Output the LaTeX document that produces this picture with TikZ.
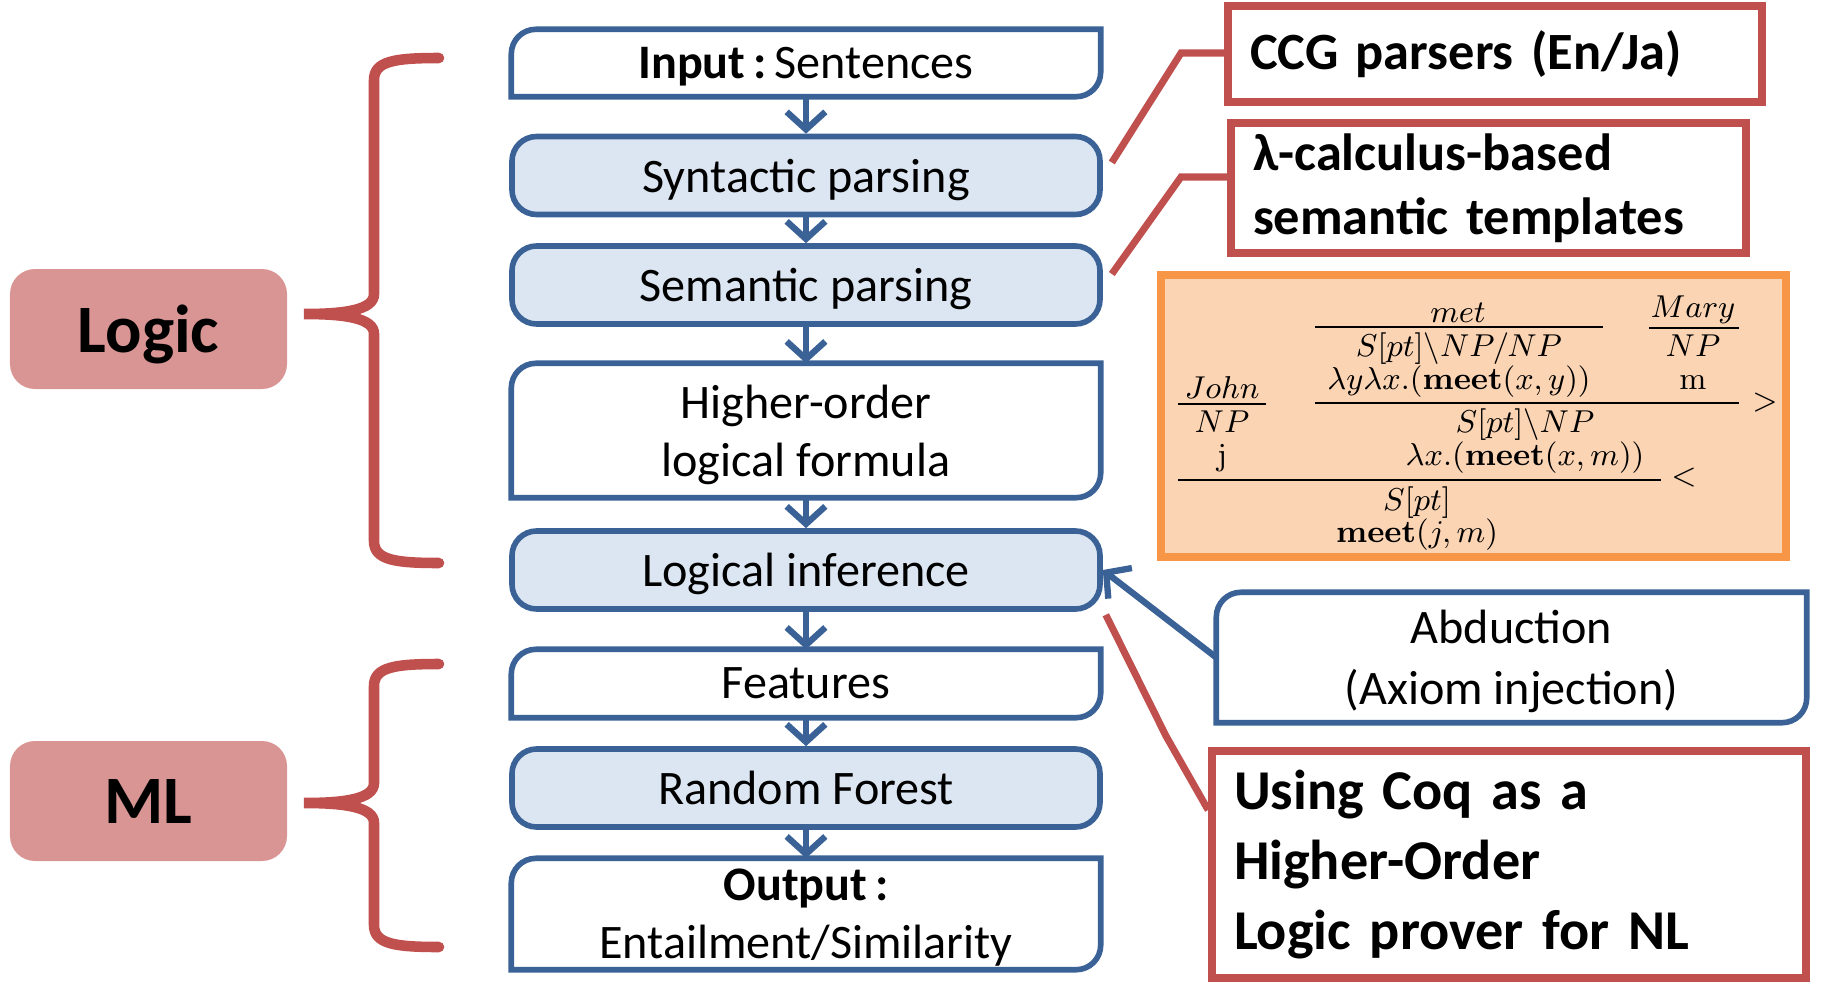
\documentclass[tikz,border=0pt]{standalone}
\usepackage[no-math]{fontspec}
\setmainfont{Carlito}
\usetikzlibrary{arrows.meta}

\definecolor{boxblue}{HTML}{3A6296}
\definecolor{boxfill}{HTML}{DCE6F2}
\definecolor{accred}{HTML}{C0504D}
\definecolor{tagfill}{HTML}{D99594}
\definecolor{derivline}{HTML}{F79646}
\definecolor{derivfill}{HTML}{FBD4B4}

\begin{document}
\begin{tikzpicture}
        \useasboundingbox (0,0) rectangle (18.21,9.83);

        % pipeline, plain boxes (outline drawn below)
        \begin{scope}[every node/.style={fill=white, minimum width=5.88cm, align=center,
            inner ysep=1pt, text depth=0pt, font=\fontsize{13.7}{16.5}\selectfont}]
          \node (inp)  at (8.06,9.20)  [minimum height=0.66cm] {\textbf{Input\,:}\,Sentences};
          \node (hof)  at (8.06,5.525) [minimum height=1.33cm] {Higher-order\\logical formula};
          \node (feat) at (8.06,2.995) [minimum height=0.67cm] {Features};
          \node (outp) at (8.06,0.69)  [minimum height=1.10cm] {\textbf{Output\,:}\\Entailment/Similarity};
          \node (abd)  at (15.115,3.255) [minimum width=5.89cm, minimum height=1.29cm,
            font=\fontsize{13.7}{17.4}\selectfont] {Abduction\\(Axiom injection)};
        \end{scope}

        \foreach \n in {inp,hof,feat,outp,abd}
          \draw[boxblue, line width=1.6pt] (\n.north) -| (\n.east)
            {[rounded corners=7pt] |- (\n.south)} -| (\n.west)
            {[rounded corners=7pt] |- (\n.north)};

        % pipeline, shaded boxes
        \begin{scope}[every node/.style={draw=boxblue, fill=boxfill, line width=1.6pt,
            rounded corners=7pt, minimum width=5.88cm, minimum height=0.78cm,
            text depth=0pt, font=\fontsize{13.7}{16.5}\selectfont}]
          \node (syn)  at (8.06,8.075) {Syntactic parsing};
          \node (sem)  at (8.06,6.98)  {Semantic parsing};
          \node (logi) at (8.06,4.13)  {Logical inference};
          \node (rf)   at (8.06,1.95)  {Random Forest};
        \end{scope}

        \begin{scope}[every edge/.style={draw=boxblue, line width=1.8pt,
            -{Straight Barb[length=5pt,width=11pt]}}]
          \path (inp) edge (syn);
          \path (syn) edge (sem);
          \path (sem) edge (hof);
          \path (hof) edge (logi);
          \path (logi) edge (feat);
          \path (feat) edge (rf);
          \path (rf) edge (outp);
          \path (abd.west) edge (logi.east);
        \end{scope}

        % notes on the right
        \begin{scope}[every node/.style={draw=accred, fill=white, line width=2.2pt,
            align=left, inner xsep=0.22cm, inner ysep=2pt,
            font=\bfseries\fontsize{14.9}{18.2}\selectfont}]
          \node (ccg) at (14.95,9.29)  [minimum height=0.96cm, text width=4.9cm] {CCG parsers (En/Ja)};
          \node (lam) at (14.885,7.95) [minimum height=1.30cm, text width=4.71cm] {λ-calculus-based\\semantic templates};
          \node (coq) at (15.09,1.185) [minimum height=2.27cm, text width=5.50cm,
            font=\bfseries\fontsize{16}{19.9}\selectfont] {Using Coq as a\\Higher-Order\\Logic prover for NL};
        \end{scope}

        \coordinate (ccgknee) at (11.81,9.30);
        \coordinate (lamknee) at (11.81,8.06);
        \coordinate (coqknee) at (11.66,2.47);
        \begin{scope}[accred, line width=2pt]
          \draw ([shift={(0.09,0.13)}]syn.east) -- (ccgknee) -- (ccgknee -| ccg.west);
          \draw ([shift={(0.09,0.11)}]sem.east) -- (lamknee) -- (lamknee -| lam.west);
          \draw ([shift={(0.03,-0.03)}]logi.south east) -- (coqknee) -- ([yshift=0.545cm]coq.west);
        \end{scope}

        % Logic / ML tags
        \begin{scope}[every node/.style={fill=tagfill, rounded corners=0.25cm,
            minimum width=2.77cm, minimum height=1.20cm, text depth=0pt,
            font=\bfseries\fontsize{19.3}{23}\selectfont}]
          \node (logic) at (1.485,6.54) {Logic};
          \node (ml)    at (1.485,1.82) {ML};
        \end{scope}

        \foreach \t/\m/\b in {9.25/6.69/4.20, 3.19/1.80/0.36}
          \draw[accred, line width=3pt, line cap=round]
            (4.39,\t) .. controls (3.95,\t) and (3.74,{\t-0.03}) .. (3.74,{\t-0.22})
            -- (3.74,{\m+0.2})
            .. controls (3.74,{\m+0.04}) and (3.45,\m) .. (3.04,\m)
            .. controls (3.45,\m) and (3.74,{\m-0.04}) .. (3.74,{\m-0.2})
            -- (3.74,{\b+0.22})
            .. controls (3.74,{\b+0.03}) and (3.95,\b) .. (4.39,\b);

        % CCG derivation
        \node (deriv) at (14.735,5.67) [draw=derivline, fill=derivfill, line width=2.4pt,
          minimum width=6.25cm, minimum height=2.82cm] {};

        \begin{scope}[every node/.style={inner sep=0pt, anchor=base, font=\fontsize{8.8}{10}\selectfont}]
          \node (met)   at (14.58,6.61) {$met$};
          \node (tv)    at (14.59,6.27) {$S[pt]\backslash NP/NP$};
          \node (tvsem) at (14.59,5.94) {$\lambda y\lambda x.(\mathbf{meet}(x,y))$};
          \node (mary)  at (16.93,6.66) {$Mary$};
          \node (np2)   at (16.93,6.27) {$NP$};
          \node (msem)  at (16.93,5.94) {$\mathrm{m}$};
          \node (john)  at (12.22,5.85) {$John$};
          \node (np1)   at (12.22,5.51) {$NP$};
          \node (jsem)  at (12.22,5.18) {$\mathrm{j}$};
          \node (vp)    at (15.25,5.51) {$S[pt]\backslash NP$};
          \node (vpsem) at (15.25,5.18) {$\lambda x.(\mathbf{meet}(x,m))$};
          \node (s)     at (14.17,4.73) {$S[pt]$};
          \node (ssem)  at (14.17,4.41) {$\mathbf{meet}(j,m)$};
          \node (fwd)   at (17.65,5.80) [anchor=center] {$>$};
          \node (bwd)   at (16.84,5.05) [anchor=center] {$<$};
        \end{scope}

        \draw[line width=0.6pt] (13.15,6.56) -- (16.03,6.56);
        \draw[line width=0.8pt] (16.49,6.55) -- (17.39,6.55);
        \draw[line width=0.8pt] (11.78,5.79) -- (12.66,5.79);
        \draw[line width=0.8pt] (13.15,5.80) -- (17.39,5.80);
        \draw[line width=0.6pt] (11.78,5.03) -- (16.61,5.03);

      \end{tikzpicture}
\end{document}
